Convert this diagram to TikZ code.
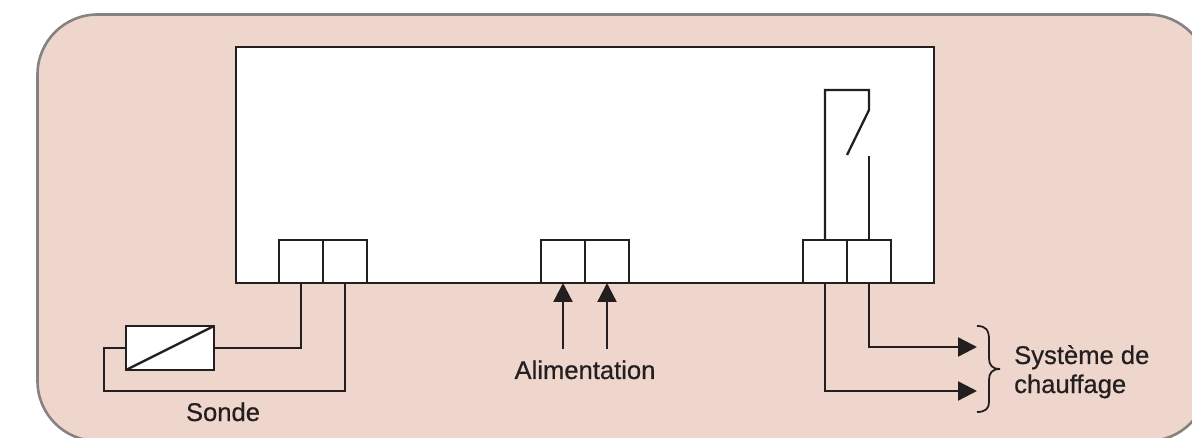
\documentclass[tikz,border=0pt]{standalone}
\usepackage{fontspec}
\setmainfont{Liberation Sans}[FakeBold=0.6]
\usetikzlibrary{arrows.meta,positioning}
\definecolor{panelfill}{RGB}{239,214,205}
\definecolor{panelrule}{RGB}{135,130,130}
\definecolor{inkline}{RGB}{35,31,32}
\tikzset{
    wire/.style={draw=inkline,line width=2.3pt},
    feed/.style={wire,-{Triangle[length=19pt,width=19pt]}},
    terminal/.style={draw=inkline,line width=2.3pt,fill=white,minimum width=44pt,minimum height=43pt,inner sep=0pt,outer sep=0pt},
    caption/.style={text=inkline,font=\fontsize{25.6}{29}\selectfont,inner sep=0pt,align=left},
}
\begin{document}
\begin{tikzpicture}[x=1pt,y=-1pt]
    \useasboundingbox (0,0) rectangle (1192,438);

    \begin{scope}
    \clip (0,0) rectangle (1192,438);
    \draw[panelrule,fill=panelfill,line width=2.6pt,rounded corners=60pt]
	    (37.5,14.5) rectangle (1208,441);
    \end{scope}

    \node[draw=inkline,line width=2.3pt,fill=white,minimum width=698pt,minimum height=236pt,inner sep=0pt,outer sep=0pt,anchor=north west] (housing) at (236,47) {};

    % terminal blocks, in pairs
    \node[terminal,anchor=north west] (sondeA) at (279,240) {};
    \node[terminal,right=0pt of sondeA] (sondeB) {};
    \node[terminal,anchor=north west] (alimA) at (541,240) {};
    \node[terminal,right=0pt of alimA] (alimB) {};
    \node[terminal,anchor=north west] (chaufA) at (803,240) {};
    \node[terminal,right=0pt of chaufA] (chaufB) {};

    % probe
    \node[draw=inkline,line width=2.3pt,fill=white,minimum width=88pt,minimum height=44pt,inner sep=0pt,outer sep=0pt,anchor=north west] (probe) at (126,326) {};
    \draw[wire] (probe.south west) -- (probe.north east);
    \draw[wire] (probe.east) -| (sondeA.south);
    \draw[wire] (probe.west) -- ++(-22,0) |- (345,391) -- (sondeB.south);
    \node[caption,anchor=base] (sondeText) at (223,421) {Sonde};

    % supply
    \coordinate (alimAfoot) at (563,349);
    \coordinate (alimBfoot) at (607,349);
    \draw[feed] (alimAfoot) -- (alimA.south);
    \draw[feed] (alimBfoot) -- (alimB.south);
    \node[caption,anchor=base] (alimText) at (585,379) {Alimentation};

    % relay contact
    \coordinate (contactTop) at (869,110);
    \coordinate (contactTip) at (847,155);
    \coordinate (contactFix) at (869,156);
    \draw[wire,line join=miter] (chaufA.north) -- (chaufA.north |- 0,90) -- (869,90) -- (contactTop) -- (contactTip);
    \draw[wire] (contactFix) -- (chaufB.north);

    % heating outputs
    \coordinate (chaufOutA) at (977,347);
    \coordinate (chaufOutB) at (977,391);
    \draw[feed] (chaufB.south) |- (chaufOutA);
    \draw[feed] (chaufA.south) |- (chaufOutB);
    \draw[wire,line width=1.8pt] (977,326) .. controls (986,326) and (989,330) .. (989,340) -- (989,358)
        .. controls (989,365) and (992,369) .. (1000,369)
        .. controls (992,369) and (989,373) .. (989,380) -- (989,402)
        .. controls (989,408) and (986,412) .. (977,412);
    \node[caption,anchor=base west] (chaufTextA) at (1014,364) {Système de};
    \node[caption,anchor=base west] (chaufTextB) at (1014,393) {chauffage};
\end{tikzpicture}
\end{document}
